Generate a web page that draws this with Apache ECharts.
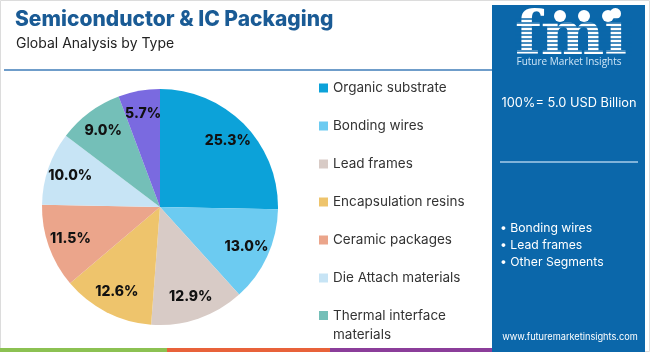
<!DOCTYPE html>
<html><head><meta charset="utf-8">
<script src="https://cdn.jsdelivr.net/npm/echarts@6/dist/echarts.min.js"></script>
<style>html,body{margin:0;padding:0;background:#fff}#c{width:650px;height:352px}</style>
</head><body><div id="c"></div>
<script>
const categories = ["Organic substrate","Bonding wires","Lead frames","Encapsulation resins","Ceramic packages","Die Attach materials","Thermal interface materials","Others"];
const values = [25.3, 13.0, 12.9, 12.6, 11.5, 10.0, 9.0, 5.7];
const colors = ["#0ca2d9","#6ccbf1","#d8cbc6","#eec46c","#eba58b","#c7e4f5","#74bfb8","#7a6ae0"];
const legendNames = categories.slice(0, 6);
const legendLast = [categories[6]];
const bullets = ["• Bonding wires","• Lead frames","• Other Segments"];

const FONT = "Inter";
const panel = "#0b67aa";
const data = categories.map((n, i) => ({name: n, value: values[i], itemStyle: {color: colors[i]}}));

const stripes = [];
for (let y = 19; y <= 57; y += 4) {
  stripes.push({type: 'line', shape: {x1: 515, y1: y, x2: 632, y2: y}, style: {stroke: panel, lineWidth: 1.4}, z: 12});
}

const chart = echarts.init(document.getElementById('c'), null, {renderer: 'canvas'});
chart.setOption({
  animation: false,
  backgroundColor: '#fff',
  title: [
    {text: 'Semiconductor & IC Packaging', left: 10, top: 4, textStyle: {fontFamily: FONT, fontWeight: 800, fontSize: 21, color: '#1a5b95'}},
    {text: 'Global Analysis by Type', left: 11, top: 32, textStyle: {fontFamily: FONT, fontWeight: 400, fontSize: 14, color: '#222'}}
  ],
  legend: [
    {data: legendNames, orient: 'vertical', left: 319, top: 78.5, padding: 0, itemWidth: 9, itemHeight: 9, itemGap: 19, icon: 'rect',
     textStyle: {fontFamily: FONT, fontSize: 13.5, color: '#333', lineHeight: 19}},
    {data: legendLast, orient: 'vertical', left: 319, top: 287, padding: 0, itemWidth: 9, itemHeight: 9, icon: 'rect',
     formatter: n => '\n' + n.replace('interface ', 'interface\n'),
     textStyle: {fontFamily: FONT, fontSize: 13.5, color: '#333', lineHeight: 19}}
  ],
  series: [
    {type: 'pie', center: [160, 207], radius: [0, 118], startAngle: 90, clockwise: true, data: data,
     label: {show: false}, labelLine: {show: false}, silent: true, emphasis: {disabled: true}},
    {type: 'pie', center: [160, 207], radius: [66, 118], startAngle: 90, clockwise: true,
     data: data.map(d => ({name: d.name, value: d.value, itemStyle: {color: 'rgba(0,0,0,0)'}})),
     silent: true, emphasis: {disabled: true}, labelLine: {show: false},
     label: {show: true, position: 'inside', formatter: p => p.value.toFixed(1) + '%',
       fontFamily: FONT, fontWeight: 800, fontSize: 14, color: '#111'}}
  ],
  graphic: [
    {type: 'rect', shape: {x: 0.5, y: 0.5, width: 649, height: 351}, style: {fill: 'none', stroke: '#dcdcdc', lineWidth: 1}, z: 1},
    {type: 'line', shape: {x1: 4, y1: 70, x2: 494, y2: 70}, style: {stroke: '#3f7cb8', lineWidth: 1.5}, z: 5},
    {type: 'rect', shape: {x: 0, y: 348, width: 167, height: 4}, style: {fill: '#8cc152'}, z: 5},
    {type: 'rect', shape: {x: 167, y: 348, width: 163, height: 4}, style: {fill: '#e8623a'}, z: 5},
    {type: 'rect', shape: {x: 330, y: 348, width: 164, height: 4}, style: {fill: '#8b3d9a'}, z: 5},
    {type: 'rect', shape: {x: 492, y: 5, width: 153, height: 347}, style: {fill: panel}, z: 10},
    {type: 'text', x: 571, y: 38, style: {text: 'fmi', fill: '#fff', font: 'bold 60px "DejaVu Serif"', align: 'center', verticalAlign: 'middle'}, z: 11},
    {type: 'circle', shape: {cx: 560, cy: 16, r: 6}, style: {fill: '#fff'}, z: 13},
    {type: 'circle', shape: {cx: 584, cy: 16, r: 6}, style: {fill: '#fff'}, z: 13},
    {type: 'circle', shape: {cx: 608, cy: 16, r: 6}, style: {fill: '#fff'}, z: 13},
    ...stripes,
    {type: 'text', x: 569, y: 62, style: {text: 'Future Market Insights', fill: '#cfe6f7', font: '10px "Open Sans"', align: 'center', verticalAlign: 'middle'}, z: 13},
    {type: 'text', x: 569, y: 103, style: {text: '100%= 5.0 USD Billion', fill: '#fff', font: '12.8px ' + FONT, align: 'center', verticalAlign: 'middle'}, z: 13},
    {type: 'line', shape: {x1: 500, y1: 162, x2: 638, y2: 162}, style: {stroke: '#a9cdea', lineWidth: 1.5}, z: 13},
    ...bullets.map((b, i) => ({type: 'text', x: 500, y: 228 + i * 17, style: {text: b, fill: '#fff', font: '12.2px ' + FONT, verticalAlign: 'middle'}, z: 13})),
    {type: 'text', x: 570, y: 337, style: {text: 'www.futuremarketinsights.com', fill: '#fff', font: '9.2px ' + FONT, align: 'center', verticalAlign: 'middle'}, z: 13}
  ]
});
</script></body></html>
